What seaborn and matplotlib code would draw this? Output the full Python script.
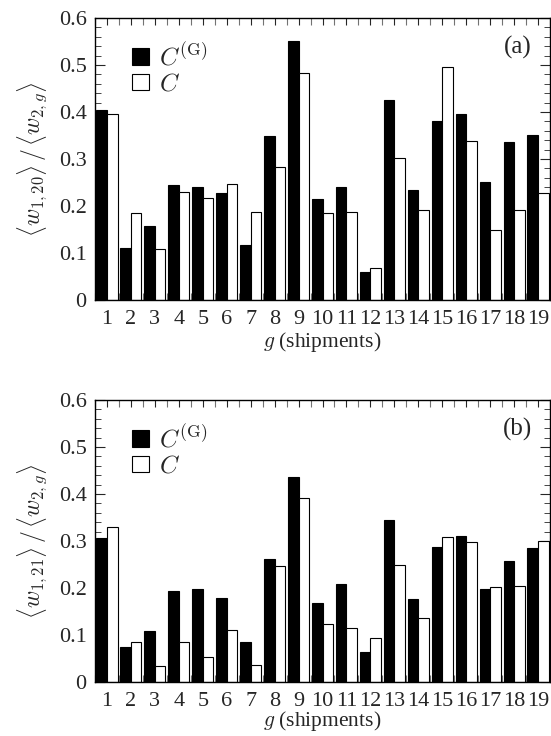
import matplotlib
matplotlib.use('Agg')
import matplotlib.pyplot as plt
import seaborn as sns
import pandas as pd
from matplotlib.patches import Patch
from matplotlib.ticker import MultipleLocator, FuncFormatter

# shipments g = 1..19
groups = [str(i) for i in range(1, 20)]

# panel (a): <w_{1,20}> / <w_{2,g}>
a_cg = [0.404, 0.111, 0.157, 0.244, 0.240, 0.227, 0.116, 0.348, 0.551, 0.215,
        0.240, 0.060, 0.426, 0.233, 0.381, 0.396, 0.250, 0.336, 0.351]
a_c = [0.396, 0.185, 0.109, 0.230, 0.218, 0.247, 0.187, 0.284, 0.482, 0.185,
       0.187, 0.069, 0.303, 0.191, 0.495, 0.339, 0.149, 0.191, 0.227]

# panel (b): <w_{1,21}> / <w_{2,g}>
b_cg = [0.306, 0.074, 0.108, 0.193, 0.198, 0.178, 0.086, 0.261, 0.437, 0.169,
        0.208, 0.064, 0.344, 0.176, 0.288, 0.310, 0.197, 0.257, 0.285]
b_c = [0.330, 0.086, 0.033, 0.086, 0.054, 0.110, 0.037, 0.247, 0.391, 0.124,
       0.115, 0.093, 0.249, 0.136, 0.309, 0.297, 0.202, 0.205, 0.299]

series_names = ['CG', 'C']
legend_labels = [r'$C^{\rm (G)}$', r'$C$']
panel_tags = ['(a)', '(b)']
ylabels = [r'$\langle w_{1,20}\rangle\,/\,\langle w_{2,g}\rangle$',
           r'$\langle w_{1,21}\rangle\,/\,\langle w_{2,g}\rangle$']

sns.set_theme(style='ticks')
plt.rcParams['font.family'] = ['Liberation Serif', 'DejaVu Serif']
plt.rcParams['mathtext.fontset'] = 'cm'

W, H = 551, 736
fig = plt.figure(figsize=(W / 100, H / 100), dpi=100)
ax_a = fig.add_axes([95 / W, 1 - 300 / H, 455 / W, 282 / H])
ax_b = fig.add_axes([95 / W, 1 - 682 / H, 455 / W, 282 / H])

palette = {'CG': 'black', 'C': 'white'}


def draw_panel(ax, cg, c, tag, ylabel, xpad):
    df = pd.DataFrame({
        'g': groups * 2,
        'series': ['CG'] * len(groups) + ['C'] * len(groups),
        'value': cg + c,
    })
    sns.barplot(data=df, x='g', y='value', hue='series', hue_order=series_names,
                palette=palette, width=0.88, gap=0, edgecolor='black',
                linewidth=0.8, ax=ax, legend=False, saturation=1)
    ax.set_xlim(-0.5, 18.5)
    ax.set_ylim(0, 0.6)
    ax.yaxis.set_major_locator(MultipleLocator(0.1))
    ax.yaxis.set_minor_locator(MultipleLocator(0.02))
    ax.yaxis.set_major_formatter(FuncFormatter(lambda v, p: '0' if abs(v) < 1e-9 else f'{v:.1f}'))
    ax.xaxis.set_minor_locator(MultipleLocator(0.5, offset=0.5))
    ax.tick_params(axis='y', which='major', direction='in', left=True, right=True,
                   length=7, width=0.8, labelsize=16, pad=6)
    ax.tick_params(axis='y', which='minor', direction='in', left=True, right=True,
                   length=4, width=0.6)
    ax.tick_params(axis='x', which='major', direction='in', bottom=False, top=True,
                   length=5, width=0.8, labelsize=16, pad=7)
    ax.tick_params(axis='x', which='minor', direction='in', bottom=True, top=True,
                   length=5, width=0.8, color='0.45')
    for s in ax.spines.values():
        s.set_linewidth(1.0)
        s.set_color('black')
    ax.set_xlabel(r'$g$ (shipments)', fontsize=15.5, labelpad=xpad)
    ax.set_ylabel(ylabel, fontsize=17, labelpad=6)
    handles = [Patch(facecolor=palette[k], edgecolor='black', linewidth=0.8)
               for k in series_names]
    ax.legend(handles, legend_labels, loc='upper left', bbox_to_anchor=(0.06, 0.95),
              frameon=False, fontsize=18, handlelength=0.65, handleheight=0.65,
              handletextpad=0.4, labelspacing=0.15, borderaxespad=0)
    ax.text(0.96, 0.895, tag, transform=ax.transAxes, ha='right', va='center',
            fontsize=18)


draw_panel(ax_a, a_cg, a_c, panel_tags[0], ylabels[0], 1)
draw_panel(ax_b, b_cg, b_c, panel_tags[1], ylabels[1], -1)

fig.savefig('out.png', dpi=100)
